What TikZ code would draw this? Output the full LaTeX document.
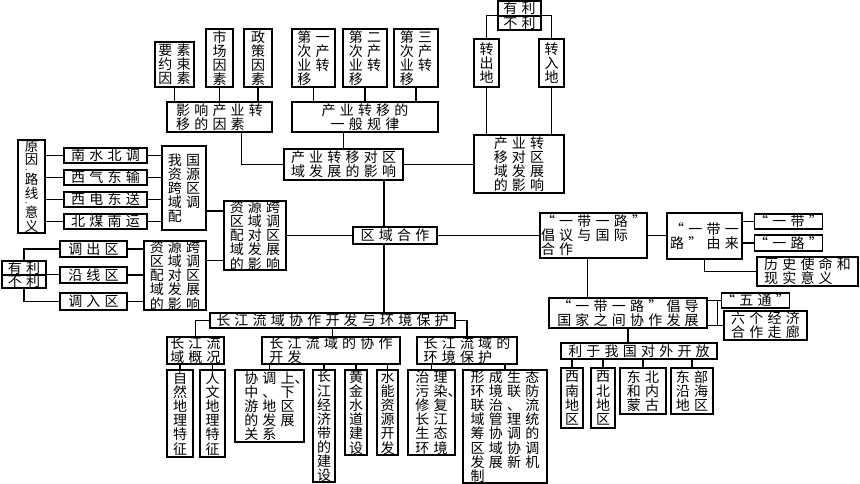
\documentclass[tikz,border=0pt]{standalone}
\usepackage{fontspec}
\newfontfamily\cjk[LetterSpace=30]{Noto Sans CJK SC}
\newcommand\cjkA{\cjk\fontsize{14}{14.1}\selectfont\setlength\lineskiplimit{-10pt}\setlength\lineskip{0pt}}
\newcommand\cjkB{\cjk\fontsize{13.5}{13.6}\selectfont\setlength\lineskiplimit{-10pt}\setlength\lineskip{0pt}}
\newcommand\Bx[7]{\node[bx,#6,minimum width={(#4-#2)*1pt},minimum height={(#5-#3)*1pt}] (#1) at ({(#2+#4)/2},{(#3+#5)/2}) {#7};}
\tikzset{
  bx/.style={draw, line width=1.3pt, inner sep=0pt, fill=white, font=\cjkA, align=left},
  ctr/.style={align=center},
  ln/.style={line width=1.2pt},
  dun/.style={inner sep=0pt, font=\cjk\fontsize{6}{6}\selectfont},
}
\begin{document}
\begin{tikzpicture}[x=1pt,y=-1pt]
\useasboundingbox[fill=white] (0,0) rectangle (860,484);
% ---- top left
\Bx{yaosu}{155}{42}{194}{87}{}{要素\\约束\\因素}
\Bx{shichang}{206}{29}{233}{87}{ctr}{市\\场\\因\\素}
\Bx{zhengce}{244}{29}{272}{87}{ctr}{政\\策\\因\\素}
\Bx{di1}{292}{29}{335}{87}{}{第一\\次产\\业转\\移}
\Bx{di2}{343}{29}{387}{87}{}{第二\\次产\\业转\\移}
\Bx{di3}{394}{29}{438}{87}{}{第三\\次产\\业转\\移}
\Bx{yingxiang}{167}{102}{272}{132}{}{影响产业转\\移的因素}
\Bx{guilv}{292}{102}{438}{132}{ctr}{产业转移的\\一般规律}
\Bx{yl}{498}{1}{541}{16}{}{有利}
\Bx{bl}{498}{16}{541}{30}{}{不利}
\Bx{zhuanchu}{474}{39}{499}{87}{ctr}{转\\出\\地}
\Bx{zhuanru}{539}{39}{564}{87}{ctr}{转\\入\\地}
\Bx{cyzy}{284}{149}{403}{180}{}{产业转移对区\\域发展的影响}
\Bx{rbox}{474}{135}{564}{193}{}{产业转\\移对区\\域发展\\的影响}
% ---- left middle
\Bx{yuanyin}{18}{140}{45}{233}{ctr,font=\cjkB}{原\\因\\[6pt]路\\线\\[6pt]意\\义}
\node[dun] (dun1) at (28,170) {、};
\node[dun] (dun2) at (28,203) {、};
\Bx{nsbd}{64}{148}{147}{163}{}{南水北调}
\Bx{xqds}{64}{170}{147}{185}{}{西气东输}
\Bx{xdds}{64}{192}{147}{207}{}{西电东送}
\Bx{bmny}{64}{214}{147}{229}{}{北煤南运}
\Bx{woguo}{162}{146}{206}{230}{}{我国\\资源\\跨区\\域调\\配}
\Bx{zy1}{224}{201}{286}{270}{}{资源跨\\区域调\\配对区\\域发展\\的影响}
\Bx{yl2}{2}{261}{46}{275}{}{有利}
\Bx{bl2}{2}{275}{46}{288}{}{不利}
\Bx{dcq}{60}{241}{127}{257}{}{调出区}
\Bx{yxq}{60}{267}{127}{283}{}{沿线区}
\Bx{drq}{60}{293}{127}{310}{}{调入区}
\Bx{zy2}{144}{241}{206}{310}{}{资源跨\\区域调\\配对区\\域发展\\的影响}
\Bx{quyu}{353}{227}{437}{244}{}{区域合作}
% ---- bottom
\Bx{cj}{210}{313}{455}{328}{}{长江流域协作开发与环境保护}
\Bx{gk}{167}{338}{224}{363}{}{长江流\\域概况}
\Bx{xz}{262}{338}{400}{363}{}{长江流域的协作\\开发}
\Bx{hb}{417}{338}{517}{363}{}{长江流域的\\环境保护}
\Bx{zr}{167}{370}{193}{457}{ctr}{自\\然\\地\\理\\特\\征}
\Bx{rw}{200}{370}{225}{457}{ctr}{人\\文\\地\\理\\特\\征}
\Bx{xt}{235}{370}{304}{442}{}{协调上\rlap{、}\\中、下\\游地区\\的发展\\关系}
\Bx{jjd}{313}{370}{335}{482}{ctr}{长\\江\\经\\济\\带\\的\\建\\设}
\Bx{hj}{345}{370}{367}{455}{ctr}{黄\\金\\水\\道\\建\\设}
\Bx{sn}{377}{370}{398}{455}{ctr}{水\\能\\资\\源\\开\\发}
\Bx{zl}{408}{370}{455}{455}{}{治理\\污染\rlap{、}\\修复\\长江\\生态\\环境}
\Bx{xc}{463}{370}{547}{483}{}{形成生态\\环境联防\\联治、流\\域管理统\\筹协调的\\区域协调\\发展新机\\制}
% ---- right
\Bx{ydyl1}{540}{213}{647}{258}{}{“一带一路”\\倡议与国际\\合作}
\Bx{ly}{667}{213}{742}{259}{}{“一带一\\路”由来}
\Bx{yd}{757}{214}{820}{229}{}{“一带”}
\Bx{yl3}{757}{235}{820}{251}{}{“一路”}
\Bx{lishi}{757}{257}{858}{286}{}{历史使命和\\现实意义}
\Bx{cd}{549}{298}{707}{328}{ctr}{“一带一路”倡导\\国家之间协作发展}
\Bx{wutong}{724}{293}{787}{308}{}{“五通”}
\Bx{liuge}{724}{311}{807}{340}{}{六个经济\\合作走廊}
\Bx{ly2}{561}{343}{717}{359}{}{利于我国对外开放}
\Bx{xn}{561}{368}{583}{428}{ctr}{西\\南\\地\\区}
\Bx{xb}{591}{368}{615}{428}{ctr}{西\\北\\地\\区}
\Bx{db}{620}{368}{666}{414}{}{东北\\和内\\蒙古}
\Bx{dbu}{671}{368}{713}{414}{}{东部\\沿海\\地区}
% ---- connectors
\foreach \n in {yaosu,shichang,zhengce}{\draw[ln] (\n.south) -- (\n.south |- yingxiang.north);}
\foreach \n in {di1,di2,di3}{\draw[ln] (\n.south) -- (\n.south |- guilv.north);}
\draw[ln] ([xshift=22pt]yingxiang.south) |- (cyzy.west);
\draw[ln] (cyzy.north) -- (cyzy.north |- guilv.south);
\draw[ln] (cyzy.east) -- (cyzy.east -| rbox.west);
\draw[ln] (zhuanchu.north) |- (bl.north west);
\draw[ln] (zhuanru.north) |- (bl.north east);
\draw[ln] (zhuanchu.south) -- (zhuanchu.south |- rbox.north);
\draw[ln] (zhuanru.south) -- (zhuanru.south |- rbox.north);
\foreach \n in {nsbd,xqds,xdds,bmny}{
  \draw[ln] (\n.west -| yuanyin.east) -- (\n.west);
  \draw[ln] (\n.east) -- (\n.east -| woguo.west);}
\draw[ln] ([yshift=-23pt]woguo.east) -- ([yshift=-23pt]woguo.east -| zy1.west);
\draw[ln] ([yshift=15pt]zy2.east) -- ([yshift=15pt]zy2.east -| zy1.west);
\draw[ln] (zy1.east) -- (quyu.west);
\draw[ln] (dcq.west) -| (yl2.north);
\draw[ln] (drq.west) -| (bl2.south);
\draw[ln] (bl2.north east) -- (bl2.north east -| yxq.west);
\foreach \n in {dcq,yxq,drq}{\draw[ln] (\n.east) -- (\n.east -| zy2.west);}
\coordinate (vx) at ([xshift=-11pt]quyu.center);
\draw[ln] (vx |- cyzy.south) -- (vx |- quyu.north);
\draw[ln] (vx |- quyu.south) -- (vx |- cj.north);
\draw[ln] (quyu.east) -- (ydyl1.west);
\draw[ln] (cj.west) -| (gk.north);
\draw[ln] (cj.east) -| (hb.north);
\draw[ln] (cj.south) -- (cj.south |- xz.north);
\foreach \n in {zr,rw}{\draw[ln] (\n.north) -- (\n.north |- gk.south);}
\foreach \n in {xt,jjd,hj,sn}{\draw[ln] (\n.north) -- (\n.north |- xz.south);}
\foreach \n in {zl,xc}{\draw[ln] (\n.north) -- (\n.north |- hb.south);}
\draw[ln] (ydyl1.east) -- (ydyl1.east -| ly.west);
\draw[ln] (yd.west -| ly.east) -- (yd.west);
\draw[ln] (yl3.west -| ly.east) -- (yl3.west);
\draw[ln] (ly.south) |- (lishi.west);
\draw[ln] ([xshift=-6pt]ydyl1.south) -- ([xshift=-6pt]ydyl1.south |- cd.north);
\coordinate (cx) at ([xshift=10pt]cd.east);
\draw[ln] (cd.east |- wutong.west) -- (wutong.west);
\draw[ln] (cd.east |- liuge.west) -- (liuge.west);
\draw[ln] (cx |- wutong.west) -- (cx |- liuge.west);
\draw[ln] (cd.south) -- (cd.south |- ly2.north);
\foreach \n in {xn,xb,db,dbu}{\draw[ln] (\n.north) -- (\n.north |- ly2.south);}
\end{tikzpicture}
\end{document}
